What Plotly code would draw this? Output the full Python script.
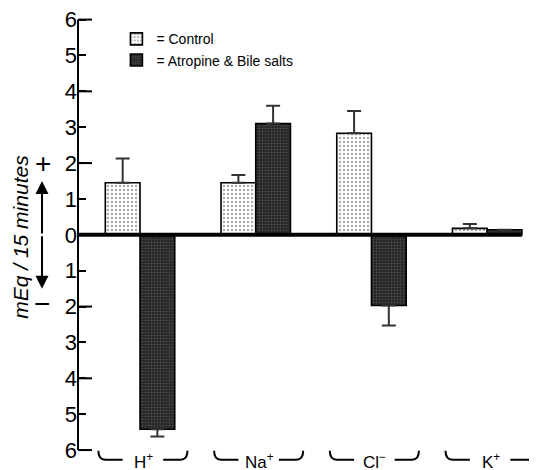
import plotly.graph_objects as go

# ---- data ----
categories = ["H+", "Na+", "Cl-", "K+"]
category_labels = ["H<sup>+</sup>", "Na<sup>+</sup>", "Cl<sup>−</sup>", "K<sup>+</sup>"]
control = [1.45, 1.45, 2.83, 0.18]
control_err = [0.68, 0.22, 0.62, 0.12]
atropine = [-5.42, 3.10, -1.97, 0.14]
atropine_err = [0.20, 0.50, 0.56, 0.0]
series_names = ["= Control", "= Atropine &amp; Bile salts"]
y_tickvals = [6, 5, 4, 3, 2, 1, 0, -1, -2, -3, -4, -5, -6]
y_ticktext = ["6", "5", "4", "3", "2", "1", "0", "1", "2", "3", "4", "5", "6"]
y_long_ticks = [6, 4, 2, 0, -2, -4, -6]
y_title = "mEq / 15 minutes"

FONT = "Liberation Sans, Arial, sans-serif"
x_pos = list(range(len(categories)))

fig = go.Figure()
fig.add_trace(go.Bar(
    x=x_pos, y=control, name=series_names[0],
    marker=dict(color="white", line=dict(color="black", width=1.6),
                pattern=dict(shape=".", fgcolor="#555555", bgcolor="white", size=4, solidity=0.3)),
    error_y=dict(type="data", symmetric=False,
                 array=[e if v >= 0 else 0 for v, e in zip(control, control_err)],
                 arrayminus=[e if v < 0 else 0 for v, e in zip(control, control_err)],
                 color="#333333", thickness=2, width=7),
))
fig.add_trace(go.Bar(
    x=x_pos, y=atropine, name=series_names[1],
    marker=dict(color="#2a2a2a", line=dict(color="black", width=1.6),
                pattern=dict(shape="+", fgcolor="#9a9a9a", bgcolor="#262626", size=3, solidity=0.2)),
    error_y=dict(type="data", symmetric=False,
                 array=[e if v >= 0 else 0 for v, e in zip(atropine, atropine_err)],
                 arrayminus=[e if v < 0 else 0 for v, e in zip(atropine, atropine_err)],
                 color="#333333", thickness=2, width=7),
))

shapes = []
# y axis line
shapes.append(dict(type="line", xref="paper", yref="y", x0=0, x1=0, y0=-6, y1=6,
                   line=dict(color="black", width=2)))
# long ticks at even values
for v in y_long_ticks:
    shapes.append(dict(type="line", xref="paper", yref="y", xsizemode="pixel", xanchor=0,
                       x0=0, x1=14, y0=v, y1=v, line=dict(color="black", width=2)))
# zero line
shapes.append(dict(type="line", xref="x", yref="y", x0=-0.65, x1=x_pos[-1] + 0.3, y0=0, y1=0,
                   line=dict(color="black", width=4)))
# category brackets
for c in x_pos:
    left = f"M {c-0.36},-6.02 Q {c-0.36},-6.27 {c-0.30},-6.27 L {c-0.15},-6.27"
    right = f"M {c+0.20},-6.27 L {c+0.35},-6.27 Q {c+0.41},-6.27 {c+0.41},-6.02"
    for p in (left, right):
        shapes.append(dict(type="path", xref="x", yref="y", path=p,
                           line=dict(color="black", width=2)))

annotations = []
for c, lab in zip(x_pos, category_labels):
    annotations.append(dict(x=c + 0.03, y=-5.95, xref="x", yref="y", text=lab, showarrow=False,
                            xanchor="center", yanchor="top",
                            font=dict(family=FONT, size=17, color="black")))
# y title
annotations.append(dict(x=-0.128, y=-0.05, xref="paper", yref="y", text="<i>" + y_title + "</i>",
                        textangle=-90, showarrow=False, xanchor="center", yanchor="middle",
                        font=dict(family=FONT, size=21, color="black")))
annotations.append(dict(x=-0.077, y=2.0, xref="paper", yref="y", text="+", showarrow=False,
                        xanchor="center", yanchor="middle",
                        font=dict(family=FONT, size=28, color="black")))
annotations.append(dict(x=-0.079, y=-1.92, xref="paper", yref="y", text="−", showarrow=False,
                        xanchor="center", yanchor="middle",
                        font=dict(family=FONT, size=28, color="black")))
# double arrow
annotations.append(dict(x=-0.0796, y=1.5, xref="paper", yref="y", text="", showarrow=True,
                        ax=0, ay=54, arrowhead=2, arrowsize=1.3, arrowwidth=2, arrowcolor="black"))
annotations.append(dict(x=-0.0796, y=-1.5, xref="paper", yref="y", text="", showarrow=True,
                        ax=0, ay=-54, arrowhead=2, arrowsize=1.3, arrowwidth=2, arrowcolor="black"))

fig.update_layout(
    width=537, height=470,
    margin=dict(l=70, r=15, t=8, b=10, autoexpand=False),
    paper_bgcolor="white", plot_bgcolor="white",
    barmode="group", bargap=0.4, bargroupgap=0,
    showlegend=True,
    legend=dict(x=0.085, y=0.984, xanchor="left", yanchor="top",
                bgcolor="rgba(0,0,0,0)", font=dict(family=FONT, size=14, color="black"),
                tracegroupgap=0, itemclick=False),
    xaxis=dict(range=[-0.536, 3.37], showgrid=False, zeroline=False, showline=False,
               showticklabels=False, ticks="", automargin=False),
    yaxis=dict(range=[-6.5, 6.1], showgrid=False, zeroline=False, showline=False,
               tickmode="array", tickvals=y_tickvals, ticktext=y_ticktext,
               ticks="inside", ticklen=8, tickwidth=2, tickcolor="black",
               ticklabeloverflow="allow", automargin=False,
               tickfont=dict(family=FONT, size=22, color="black")),
    shapes=shapes, annotations=annotations,
)

fig.write_html("out.html")
